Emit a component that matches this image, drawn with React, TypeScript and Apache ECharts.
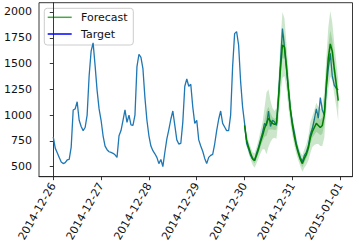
import React, { useEffect, useRef } from "react";
import * as echarts from "echarts";

// Hourly target values, 2014-12-26 00:00 .. 2014-12-31 23:00
const target: number[] = [
  790, 680, 635, 590, 545, 530, 540, 565, 570, 690, 1050, 1060, 1130, 950, 890, 850, 880, 1000, 1380, 1620, 1700, 1480, 1240, 1060,
  950, 800, 700, 665, 645, 638, 630, 615, 590, 800, 850, 950, 1050, 930, 1000, 905, 900, 1000, 1470, 1590, 1560, 1450, 1170, 950,
  800, 700, 655, 625, 590, 530, 570, 500, 640, 770, 860, 960, 1040, 900, 760, 720, 725, 930, 1280, 1350, 1280, 1300, 1080, 920,
  950, 760, 700, 650, 580, 530, 590, 610, 620, 720, 850, 960, 1040, 920, 885, 850, 850, 1000, 1470, 1790, 1810, 1680, 1330, 1080,
  920, 727, 670, 610, 575, 560, 630, 690, 760, 830, 920, 900, 1040, 890, 950, 935, 900, 1180, 1500, 1840, 1660, 1450, 1250, 1050,
  930, 830, 720, 650, 590, 550, 610, 640, 700, 810, 870, 960, 1060, 970, 1170, 1050, 1000, 1250, 1450, 1600, 1380, 1290, 1260, 1245,
];

// Forecast starts at 2014-12-30 00:00 (hour index 96)
const forecastStart = 96;
const forecastMean: number[] = [
  900, 760, 690, 630, 580, 560, 610, 670, 740, 800, 870, 920, 970, 940, 920, 910, 920, 1150, 1450, 1680, 1660, 1480, 1250, 1050,
  900, 790, 700, 630, 570, 530, 580, 620, 680, 780, 840, 880, 920, 900, 880, 900, 1000, 1300, 1550, 1690, 1620, 1450, 1300, 1140,
];
const outerSpread: number[] = [
  60, 60, 60, 60, 60, 70, 80, 90, 110, 130, 200, 300, 280, 200, 150, 130, 150, 200, 260, 320, 280, 220, 180, 130,
  100, 90, 80, 70, 70, 80, 90, 100, 120, 150, 150, 170, 200, 180, 180, 200, 220, 250, 300, 320, 280, 250, 220, 200,
];
const innerSpread: number[] = [
  25, 25, 25, 25, 25, 30, 35, 40, 50, 55, 80, 120, 110, 80, 60, 55, 60, 80, 100, 130, 110, 90, 70, 55,
  40, 35, 35, 30, 30, 35, 40, 40, 50, 60, 60, 70, 80, 75, 75, 80, 90, 100, 120, 130, 110, 100, 90, 80,
];

const dayTicks: number[] = [0, 24, 48, 72, 96, 120, 144];
const dayLabels: string[] = ["2014-12-26", "2014-12-27", "2014-12-28", "2014-12-29", "2014-12-30", "2014-12-31", "2015-01-01"];
const yTicks: number[] = [500, 750, 1000, 1250, 1500, 1750, 2000];
const legendNames: string[] = ["Forecast", "Target"];
const legendColors: string[] = ["#4aa64a", "#0000ff"];

const FONT = "DejaVu Sans";

function bandSeries(spread: number[], name: string) {
  return {
    type: "custom",
    name,
    silent: true,
    data: forecastMean.map((v, i) => [forecastStart + i, v]),
    renderItem: (params: any, api: any) => {
      if (params.dataIndex !== 0) return null;
      const upper = forecastMean.map((v, i) => api.coord([forecastStart + i, v + spread[i]]));
      const lower = forecastMean.map((v, i) => api.coord([forecastStart + i, v - spread[i]])).reverse();
      return {
        type: "polygon",
        shape: { points: upper.concat(lower) },
        style: { fill: "rgba(0,128,0,0.2)", stroke: "none" },
      };
    },
    z: 3,
  };
}

export default function App() {
  const ref = useRef<HTMLDivElement>(null);
  useEffect(() => {
    if (!ref.current) return;
    const chart = echarts.init(ref.current, null, { renderer: "svg" });
    const legendRows = [17.3, 34];
    chart.setOption({
      animation: false,
      backgroundColor: "#ffffff",
      textStyle: { fontFamily: FONT },
      grid: {
        left: 39,
        right: 6.5,
        top: 2.7,
        bottom: 70.3,
        show: true,
        borderColor: "#222",
        borderWidth: 0.9,
      },
      graphic: [
        {
          type: "group",
          z: 100,
          children: [
            {
              type: "rect",
              shape: { x: 44.3, y: 8.3, width: 89, height: 36.7, r: 3 },
              style: { fill: "rgba(255,255,255,0.8)", stroke: "#cccccc", lineWidth: 1 },
            },
            ...legendNames.flatMap((name, i) => [
              {
                type: "line",
                shape: { x1: 47.7, y1: legendRows[i], x2: 71.7, y2: legendRows[i] },
                style: { stroke: legendColors[i], lineWidth: 1.5 },
              },
              {
                type: "text",
                x: 81,
                y: legendRows[i],
                style: {
                  text: name,
                  fontFamily: FONT,
                  fontSize: 11,
                  fill: "#111",
                  verticalAlign: "middle",
                  align: "left",
                },
              },
            ]),
          ],
        },
      ],
      xAxis: {
        type: "value",
        min: -7.15,
        max: 150.15,
        splitLine: { show: false },
        axisLine: { show: true, onZero: false, lineStyle: { color: "#222", width: 0.9 } },
        axisTick: { show: true, customValues: dayTicks, length: 3.5, lineStyle: { color: "#222", width: 0.9 } },
        axisLabel: {
          customValues: dayTicks,
          rotate: 60,
          margin: 7,
          fontFamily: FONT,
          fontSize: 11,
          color: "#111",
          formatter: (v: number) => dayLabels[dayTicks.indexOf(Math.round(v))] ?? "",
        },
      },
      yAxis: {
        type: "value",
        min: 403,
        max: 2090,
        splitLine: { show: false },
        axisLine: { show: true, lineStyle: { color: "#222", width: 0.9 } },
        axisTick: { show: true, customValues: yTicks, length: 3.5, lineStyle: { color: "#222", width: 0.9 } },
        axisLabel: {
          customValues: yTicks,
          margin: 7,
          fontFamily: FONT,
          fontSize: 11,
          color: "#111",
          formatter: (v: number) => String(v),
        },
      },
      series: [
        {
          type: "line",
          name: "Target",
          data: target.map((v, i) => [i, v]),
          showSymbol: false,
          lineStyle: { color: "#1f77b4", width: 1.3 },
          itemStyle: { color: "#1f77b4" },
          z: 2,
        },
        bandSeries(outerSpread, "band90"),
        bandSeries(innerSpread, "band50"),
        {
          type: "line",
          name: "Forecast",
          data: forecastMean.map((v, i) => [forecastStart + i, v]),
          showSymbol: false,
          lineStyle: { color: "#008000", width: 1.5 },
          itemStyle: { color: "#008000" },
          z: 4,
        },
      ],
    });
    return () => chart.dispose();
  }, []);
  return (
    <div
      ref={ref}
      style={{ position: "fixed", left: 0, top: 0, width: 359, height: 247 }}
    />
  );
}
